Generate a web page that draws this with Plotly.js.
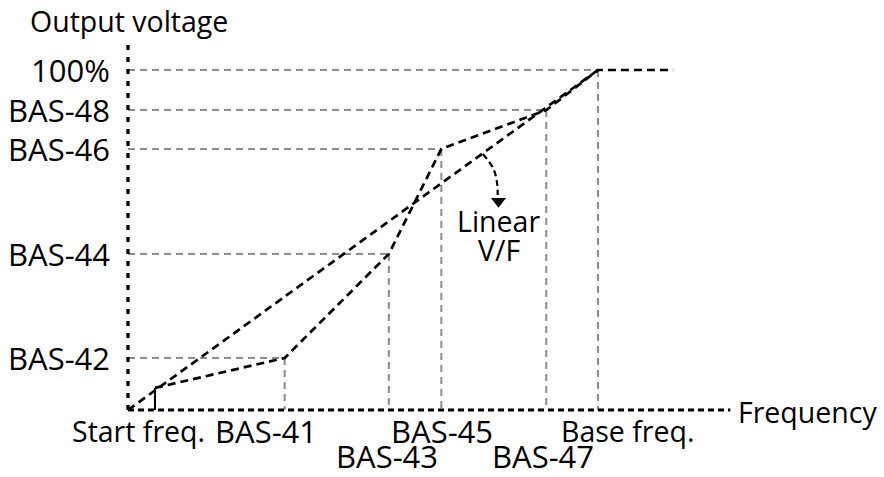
<!DOCTYPE html>
<html>
<head>
<meta charset="utf-8">
<script src="https://cdn.plot.ly/plotly-3.0.1.min.js"></script>
<style>html,body{margin:0;padding:0;background:#fff;}#chart{width:884px;height:477px;}</style>
</head>
<body>
<div id="chart"></div>
<script>
// ---- data (frequency in Hz-like units, voltage in % of rated) ----
const freqLabels = ['Start freq.', 'BAS-41', 'BAS-43', 'BAS-45', 'BAS-47', 'Base freq.'];
const freqValues = [3.45, 20.0, 33.3, 40.0, 53.4, 60.0];
const voltLabels = ['BAS-42', 'BAS-44', 'BAS-46', 'BAS-48', '100%'];
const voltValues = [15.3, 45.9, 76.8, 88.2, 100];
const startVoltage = 6.5;
const maxFreqLine = 69.6;     // end of flat 100% segment
const xAxisEnd = 76.9;
const yAxisEnd = 108.2;
const linearX = [0, 60.0];
const linearY = [0, 100];
const arrowX = [45.3, 46.6, 47.1, 47.2];
const arrowY = [75.3, 71.2, 67.1, 63.2];
const arrowHeadX = [47.3];
const arrowHeadY = [61.4];

// ---- build traces ----
const FONT = {family: 'Open Sans, sans-serif', size: 28.5, color: '#000'};
const FONT_BAS = {family: 'Open Sans, sans-serif', size: 31, color: '#000'};

// user V/F curve
const userX = freqValues.concat([maxFreqLine]);
const userY = [startVoltage].concat(voltValues).concat([voltValues[voltValues.length - 1]]);

// gray guide lines
const gx = [], gy = [];
for (let i = 0; i < voltValues.length; i++) {
  const f = freqValues[i + 1], v = voltValues[i];
  gx.push(0, f, null); gy.push(v, v, null);
  gx.push(f, f, null); gy.push(v, 0, null);
}

const traces = [
  {x: gx, y: gy, mode: 'lines', line: {color: '#8c8c8c', width: 2, dash: '7px,5px'}, hoverinfo: 'skip', cliponaxis: false},
  {x: [0, xAxisEnd], y: [0, 0], mode: 'lines', line: {color: '#000', width: 3, dash: '6px,4px'}, hoverinfo: 'skip', cliponaxis: false},
  {x: [0, 0], y: [0, yAxisEnd], mode: 'lines', line: {color: '#000', width: 3.3, dash: '5px,7px'}, hoverinfo: 'skip', cliponaxis: false},
  {x: [freqValues[0], freqValues[0]], y: [0, startVoltage], mode: 'lines', line: {color: '#000', width: 2}, hoverinfo: 'skip', cliponaxis: false},
  {x: linearX, y: linearY, mode: 'lines', line: {color: '#000', width: 2.7, dash: '8px,5px'}, hoverinfo: 'skip', cliponaxis: false},
  {x: userX, y: userY, mode: 'lines', line: {color: '#000', width: 2.7, dash: '8px,5px'}, hoverinfo: 'skip', cliponaxis: false},
  {x: arrowX, y: arrowY, mode: 'lines', line: {color: '#000', width: 2.2, dash: '6px,4px', shape: 'spline'}, hoverinfo: 'skip', cliponaxis: false},
  {x: arrowHeadX, y: arrowHeadY, mode: 'markers', marker: {symbol: 'triangle-down', size: 13, color: '#000'}, hoverinfo: 'skip', cliponaxis: false}
];

// ---- annotations ----
const ann = [];
voltLabels.forEach((t, i) => {
  ann.push({x: 0, y: voltValues[i], xref: 'x', yref: 'y', text: t, showarrow: false,
    xanchor: 'right', yanchor: 'middle', xshift: -16, yshift: 0, font: FONT_BAS});
});
// x labels: row and horizontal offset per label
const xRow = [0, 0, 1, 0, 1, 0];
const xShift = [-17, -19, -2, 1, -3, 30];
freqLabels.forEach((t, i) => {
  const isBas = t.indexOf('BAS') === 0;
  ann.push({x: freqValues[i], y: 0, xref: 'x', yref: 'y', text: t, showarrow: false,
    xanchor: 'center', yanchor: 'middle', xshift: xShift[i], yshift: xRow[i] ? -46 : -21,
    font: isBas ? FONT_BAS : FONT});
});
ann.push({x: xAxisEnd, y: 0, xref: 'x', yref: 'y', text: 'Frequency', showarrow: false,
  xanchor: 'left', yanchor: 'middle', xshift: 6, yshift: -2, font: FONT});
ann.push({x: 0, y: yAxisEnd, xref: 'x', yref: 'y', text: 'Output voltage', showarrow: false,
  xanchor: 'center', yanchor: 'middle', xshift: 1, yshift: 21, font: FONT});
ann.push({x: arrowHeadX[0], y: arrowHeadY[0], xref: 'x', yref: 'y', text: 'Linear', showarrow: false,
  xanchor: 'center', yanchor: 'middle', xshift: 0, yshift: -20, font: FONT});
ann.push({x: arrowHeadX[0], y: arrowHeadY[0], xref: 'x', yref: 'y', text: 'V/F', showarrow: false,
  xanchor: 'center', yanchor: 'middle', xshift: 0, yshift: -49, font: FONT});

const PXX = 7.833, PXY = 3.4;
const layout = {
  width: 884, height: 477,
  margin: {l: 0, r: 0, t: 0, b: 0, pad: 0},
  paper_bgcolor: '#fff', plot_bgcolor: '#fff',
  showlegend: false,
  xaxis: {range: [-128 / PXX, (884 - 128) / PXX], visible: false, fixedrange: true},
  yaxis: {range: [-(477 - 410) / PXY, 410 / PXY], visible: false, fixedrange: true},
  annotations: ann
};

Plotly.newPlot('chart', traces, layout, {displayModeBar: false, staticPlot: true});
</script>
</body>
</html>
